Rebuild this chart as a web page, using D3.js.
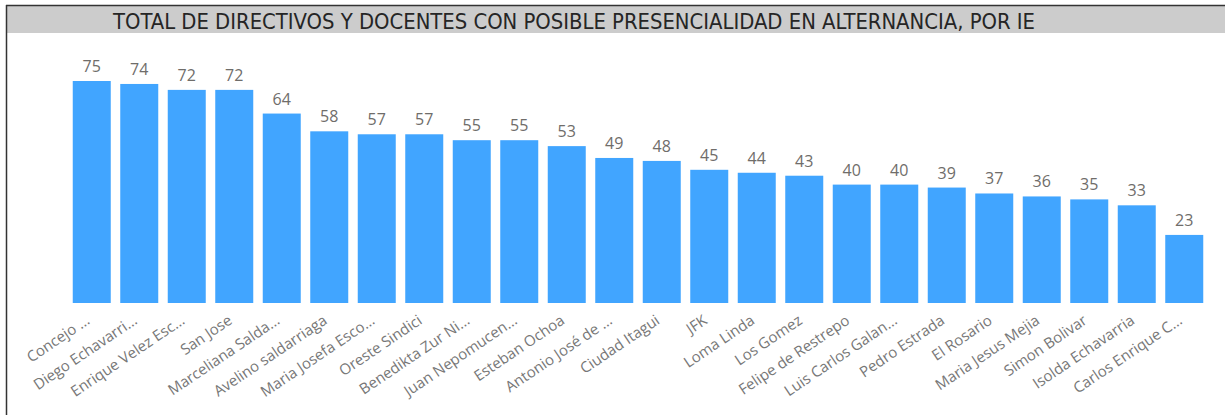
<!DOCTYPE html>
<html>
<head>
<meta charset="utf-8">
<script src="https://cdn.jsdelivr.net/npm/d3@7"></script>
<style>
  body { margin: 0; background: #fff; }
  svg { display: block; }
</style>
</head>
<body>
<svg></svg>
<script>
const width = 1225;
const height = 415;

const categories = [
  'Concejo ...', 'Diego Echavarri...', 'Enrique Velez Esc...', 'San Jose',
  'Marceliana Salda...', 'Avelino saldarriaga', 'Maria Josefa Esco...', 'Oreste Sindici',
  'Benedikta Zur Ni...', 'Juan Nepomucen...', 'Esteban Ochoa', 'Antonio José de ...',
  'Ciudad Itagui', 'JFK', 'Loma Linda', 'Los Gomez',
  'Felipe de Restrepo', 'Luis Carlos Galan...', 'Pedro Estrada', 'El Rosario',
  'Maria Jesus Mejia', 'Simon Bolivar', 'Isolda Echavarria', 'Carlos Enrique C...'
];
const values = [75, 74, 72, 72, 64, 58, 57, 57, 55, 55, 53, 49, 48, 45, 44, 43, 40, 40, 39, 37, 36, 35, 33, 23];

const title = 'TOTAL DE DIRECTIVOS Y DOCENTES CON POSIBLE PRESENCIALIDAD EN ALTERNANCIA, POR IE';

const plotLeft = 68;
const plotRight = 1208;
const plotBottom = 303;
const plotTop = 81;

window.onload = () => {
  const svg = d3.select('svg')
      .attr('width', width)
      .attr('height', height);

  // frame
  svg.append('rect')
      .attr('x', 0).attr('y', 0)
      .attr('width', width).attr('height', height)
      .attr('fill', '#fff');

  svg.append('rect')
      .attr('x', 7).attr('y', 6)
      .attr('width', width - 7).attr('height', 27)
      .attr('fill', '#cccccc');

  svg.append('line')
      .attr('x1', 6).attr('x2', width)
      .attr('y1', 5.5).attr('y2', 5.5)
      .attr('stroke', '#333').attr('stroke-width', 1.5);

  svg.append('line')
      .attr('x1', 6.5).attr('x2', 6.5)
      .attr('y1', 5).attr('y2', height)
      .attr('stroke', '#333').attr('stroke-width', 1.5);

  svg.append('text')
      .attr('x', 113)
      .attr('y', 28.5)
      .attr('textLength', 922)
      .attr('lengthAdjust', 'spacingAndGlyphs')
      .style('font-family', '"DejaVu Sans Condensed", "Liberation Sans Narrow", sans-serif')
      .style('font-size', '22px')
      .attr('fill', '#252525')
      .text(title);

  const x = d3.scaleBand()
      .domain(categories)
      .range([plotLeft, plotRight])
      .paddingInner(0.2)
      .paddingOuter(0.1);

  const y = d3.scaleLinear()
      .domain([0, 75])
      .range([plotBottom, plotTop]);

  svg.append('g')
    .selectAll('rect')
    .data(values)
    .join('rect')
      .attr('x', (d, i) => x(categories[i]))
      .attr('y', d => y(d))
      .attr('width', x.bandwidth())
      .attr('height', d => plotBottom - y(d))
      .attr('fill', '#41a5ff');

  svg.append('g')
    .selectAll('text')
    .data(values)
    .join('text')
      .attr('x', (d, i) => x(categories[i]) + x.bandwidth() / 2)
      .attr('y', d => y(d) - 9)
      .attr('text-anchor', 'middle')
      .style('font-family', '"Open Sans", "Noto Sans", sans-serif')
      .style('font-size', '16px')
      .attr('fill', '#6f6d6a')
      .text(d => d);

  const axis = d3.axisBottom(x).tickSize(0).tickPadding(0);
  const gx = svg.append('g')
      .attr('transform', `translate(0,${plotBottom})`)
      .call(axis);
  gx.select('.domain').remove();
  gx.selectAll('text')
      .attr('transform', 'translate(-7,11) rotate(-34)')
      .attr('text-anchor', 'end')
      .attr('dy', '0.71em')
      .attr('y', 0)
      .style('font-family', '"Open Sans", "Noto Sans", sans-serif')
      .style('font-size', '15px')
      .attr('fill', '#777');
};
</script>
</body>
</html>
